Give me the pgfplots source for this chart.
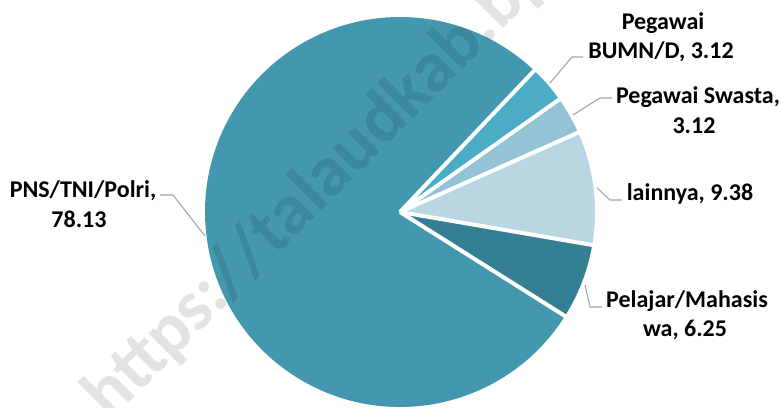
\documentclass[border=0pt]{standalone}
\usepackage{fontspec}
\setmainfont{Carlito}
\usepackage{pgfplots}
\pgfplotsset{compat=1.18}
\usepackage{pgfplotstable}

\definecolor{cPNS}{HTML}{4398B0}
\definecolor{cBUMN}{HTML}{4BACC6}
\definecolor{cSwasta}{HTML}{93C3D4}
\definecolor{cLain}{HTML}{B9D7E3}
\definecolor{cPelajar}{HTML}{357F94}
\definecolor{leader}{HTML}{A6A6A6}
\colorlet{w0}{cBUMN}\colorlet{w1}{cSwasta}\colorlet{w2}{cLain}\colorlet{w3}{cPelajar}\colorlet{w4}{cPNS}

% slices in clockwise order, starting at the top right
\pgfplotstableread{
category value
BUMN 3.12
Swasta 3.12
lainnya 9.38
Pelajar 6.25
PNS 78.13
}\piedata

\begin{document}
\begin{tikzpicture}[lbl/.style={font=\bfseries\fontsize{24}{30}\selectfont, anchor=base, inner sep=0pt},
  ldr/.style={leader, line width=1.1pt}]
\xdef\angnow{46.5}
\pgfplotsforeachungrouped \i in {0,...,4}{%
  \pgfplotstablegetelem{\i}{value}\of\piedata
  \pgfmathsetmacro{\angend}{\angnow-3.6*\pgfplotsretval}%
  \expandafter\xdef\csname aS\i\endcsname{\angnow}%
  \expandafter\xdef\csname aE\i\endcsname{\angend}%
  \xdef\angnow{\angend}%
}
\begin{axis}[name=ax, x=1pt, y=1pt, xmin=0, xmax=784, ymin=0, ymax=407,
  y dir=reverse, hide axis, clip=false]
\pgfplotsforeachungrouped \i in {0,...,4}{%
  \edef\temp{\noexpand\fill[w\i] (axis cs:400,212) -- ++(\csname aS\i\endcsname:195pt) arc[start angle=\csname aS\i\endcsname, end angle=\csname aE\i\endcsname, radius=195pt] -- cycle;}%
  \temp
}
\pgfplotsforeachungrouped \i in {0,...,4}{%
  \edef\temp{\noexpand\draw[white, line width=4pt] (axis cs:400,212) -- ++(\csname aS\i\endcsname:197pt);}%
  \temp
}
% watermark
\node[rotate=45, anchor=base west, inner sep=0pt, font=\bfseries\fontsize{72}{72}\selectfont, text=black, text opacity=0.11]
  at (axis cs:110,422) {https://talaudkab.bps.go.id};
% leader lines
\draw[ldr] (axis cs:160,195) -- (axis cs:173,195) -- (axis cs:205,236);
\draw[ldr] (axis cs:550,83) -- (axis cs:572,57) -- (axis cs:583,57);
\draw[ldr] (axis cs:573,115) -- (axis cs:600,98) -- (axis cs:612,98);
\draw[ldr] (axis cs:597,188) -- (axis cs:610,200) -- (axis cs:622,200);
\draw[ldr] (axis cs:585,285) -- (axis cs:590,307) -- (axis cs:602,307);
% labels
\node[lbl] at (axis cs:83,197) {PNS/TNI/Polri,};
\node[lbl] at (axis cs:79,227) {78.13};
\node[lbl] at (axis cs:663,29) {Pegawai};
\node[lbl] at (axis cs:661,58) {BUMN/D, 3.12};
\node[lbl] at (axis cs:698,103) {Pegawai Swasta,};
\node[lbl] at (axis cs:694,133) {3.12};
\node[lbl] at (axis cs:690,200) {lainnya, 9.38};
\node[lbl] at (axis cs:687,307) {Pelajar/Mahasis};
\node[lbl] at (axis cs:685,336) {wa, 6.25};
\end{axis}
\pgfresetboundingbox
\useasboundingbox (ax.south west) rectangle (ax.north east);
\end{tikzpicture}
\end{document}
